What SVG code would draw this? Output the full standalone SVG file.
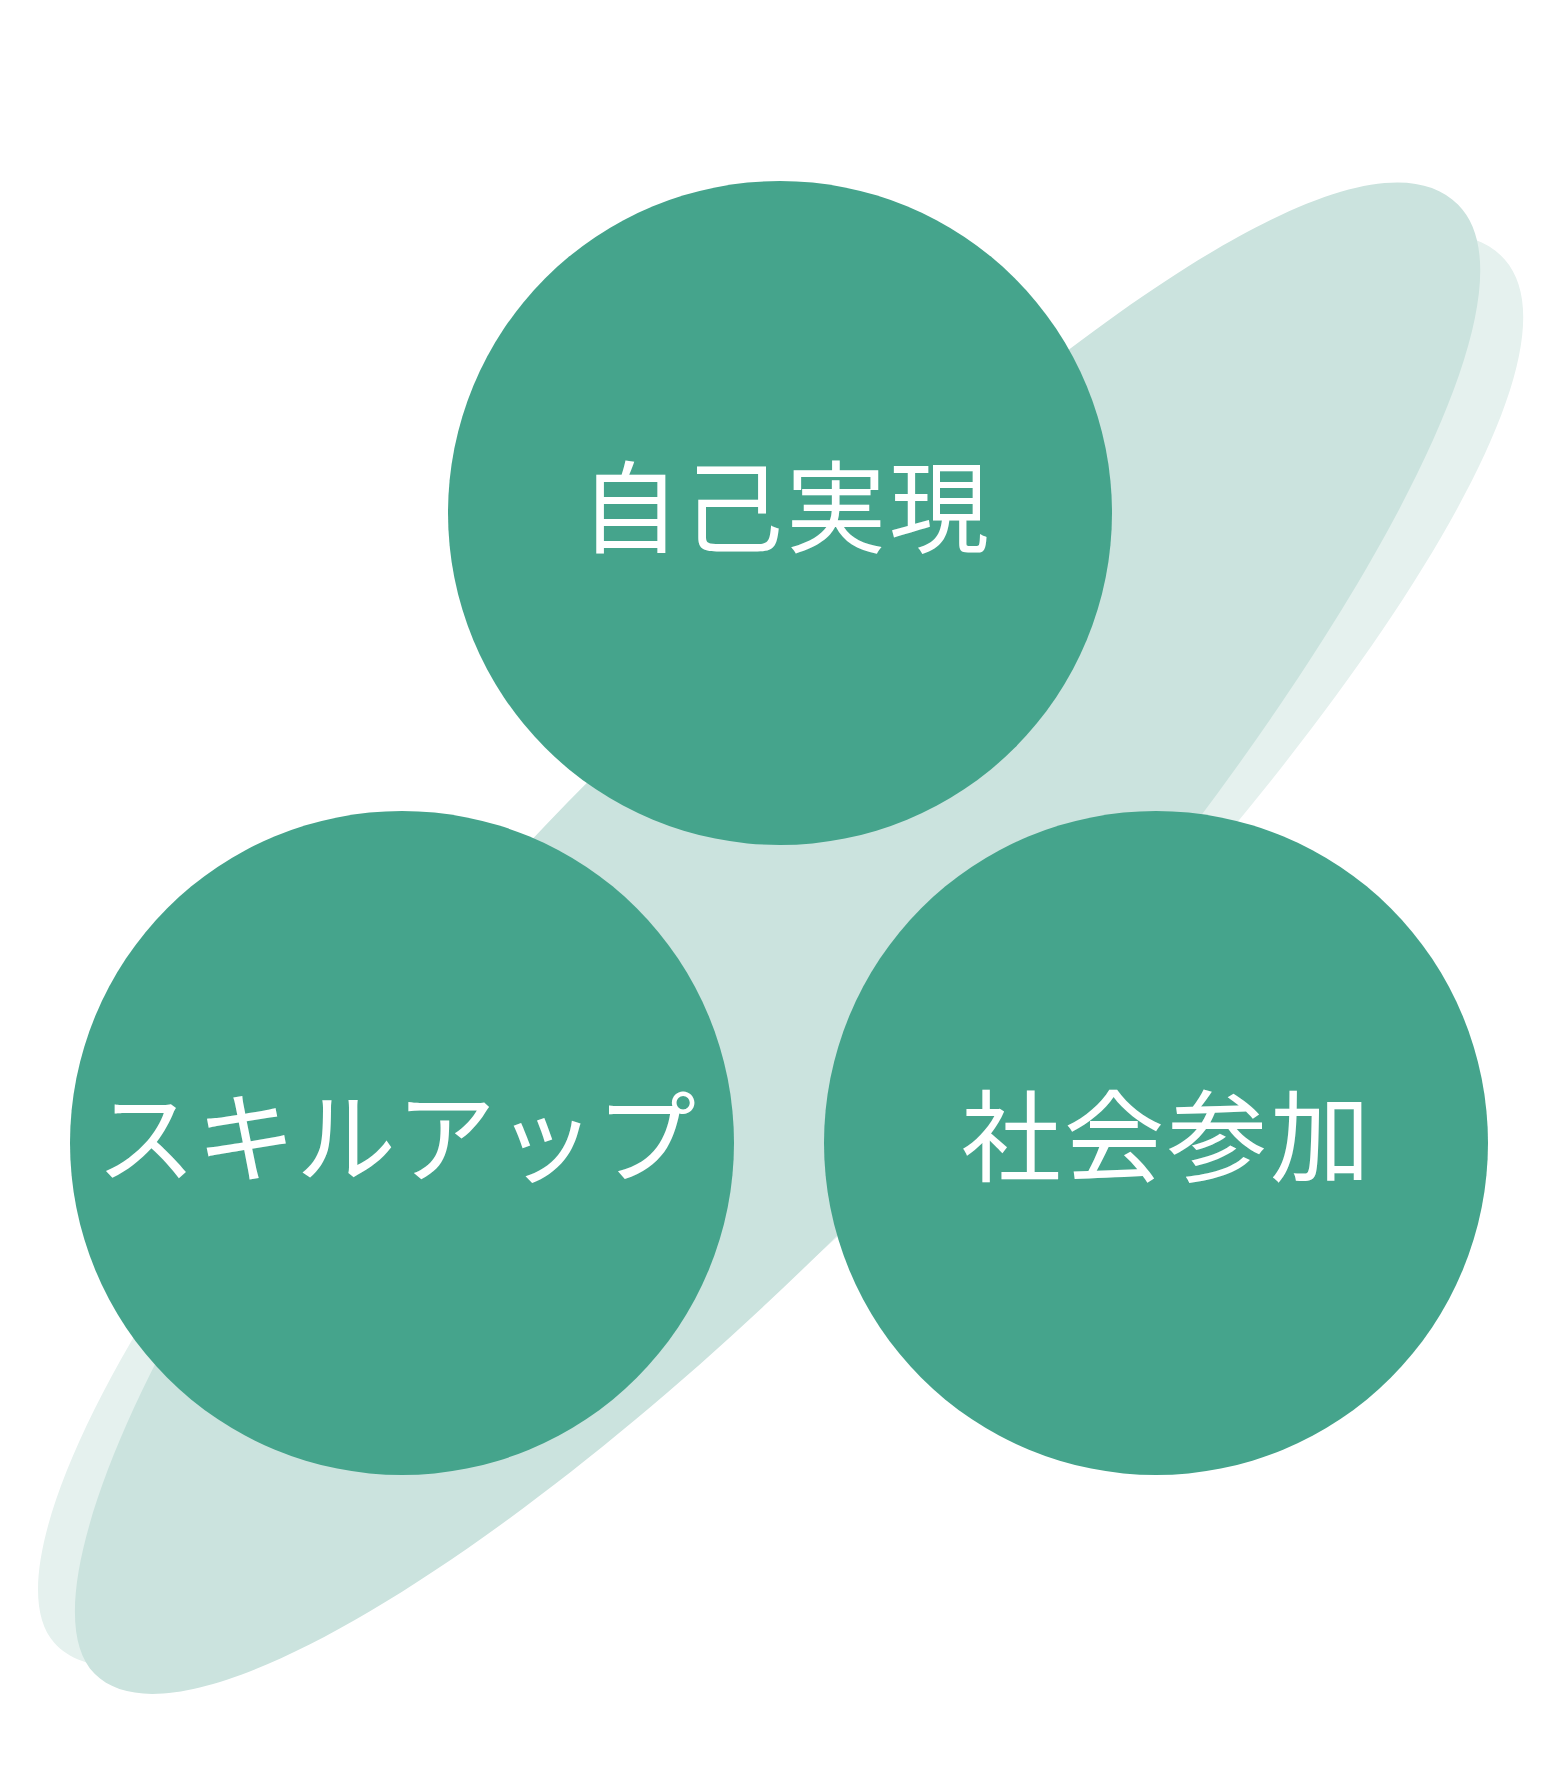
<svg xmlns="http://www.w3.org/2000/svg" xmlns:xlink="http://www.w3.org/1999/xlink" width="1560" height="1768" viewBox="0 0 1560 1768">
  <style>
    .node-circle { fill: #45A48C; }
    .label { font-family: "Noto Sans CJK JP", "Noto Sans CJK SC", sans-serif; font-size: 100px; fill: #FFFFFF; text-anchor: middle; }
    .kanji { letter-spacing: 3px; }
  </style>
  <defs>
    <path id="leaf" d="M1003,-40 C1003,120 400,250 -160,250 C-580,250 -1000,165 -1000,35 C-1000,-93 -520,-247 -20,-247 C700,-247 1003,-160 1003,-40 Z"/>
  </defs>
  <rect x="0" y="0" width="1560" height="1768" fill="#FFFFFF"/>
  <g id="background">
    <use xlink:href="#leaf" href="#leaf" fill="#E5F1EE" transform="translate(780 954) rotate(-41.5)"/>
    <use xlink:href="#leaf" href="#leaf" fill="#CBE3DE" transform="translate(777 942) rotate(-45)"/>
  </g>
  <g id="connectors"></g>
  <g id="node-self-realization">
    <circle class="node-circle" cx="780" cy="513" r="332"/>
    <text class="label kanji" x="786" y="545">自己実現</text>
  </g>
  <g id="node-skill-up">
    <circle class="node-circle" cx="402" cy="1143" r="332"/>
    <text class="label" x="396" y="1175">スキルアップ</text>
  </g>
  <g id="node-social-participation">
    <circle class="node-circle" cx="1156" cy="1143" r="332"/>
    <text class="label kanji" x="1167" y="1174">社会参加</text>
  </g>
</svg>
